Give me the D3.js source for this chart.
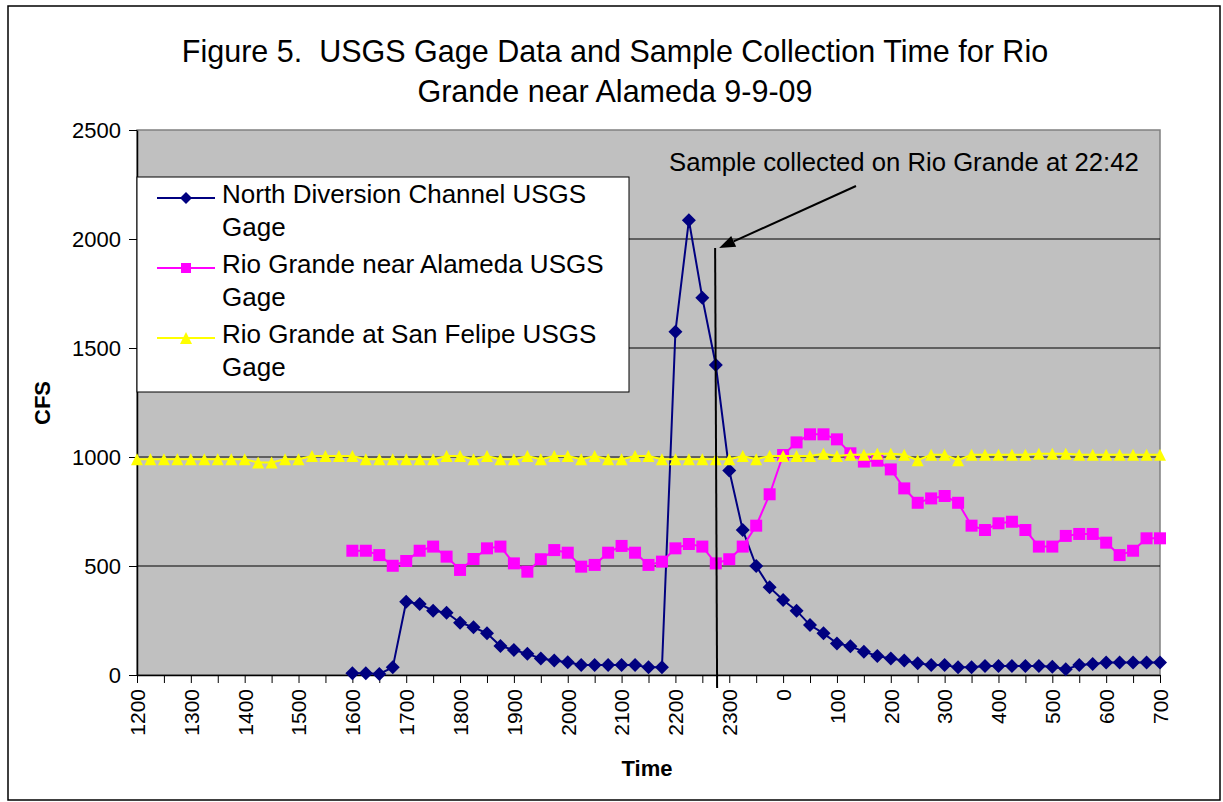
<!DOCTYPE html>
<html>
<head>
<meta charset="utf-8">
<script src="https://cdn.jsdelivr.net/npm/d3@7"></script>
<style>
  body { margin: 0; background: #fff; }
  svg { display: block; font-family: "Liberation Sans", Arial, sans-serif; }
</style>
</head>
<body>
<div id="chart"></div>
<script>
// Categories: readings every 15 minutes, 12:00 on 9-9-09 to 07:00 next morning
const times = ["1200","1215","1230","1245","1300","1315","1330","1345","1400","1415","1430","1445",
  "1500","1515","1530","1545","1600","1615","1630","1645","1700","1715","1730","1745",
  "1800","1815","1830","1845","1900","1915","1930","1945","2000","2015","2030","2045",
  "2100","2115","2130","2145","2200","2215","2230","2245","2300","2315","2330","2345",
  "0","15","30","45","100","115","130","145","200","215","230","245",
  "300","315","330","345","400","415","430","445","500","515","530","545",
  "600","615","630","645","700"];

const tickLabels = ["1200","1300","1400","1500","1600","1700","1800","1900","2000","2100",
  "2200","2300","0","100","200","300","400","500","600","700"];

const yTicks = [0, 500, 1000, 1500, 2000, 2500];

const northDiversion = [null,null,null,null,null,null,null,null,null,null,null,null,null,null,null,null,
  8,8,5,35,336,326,295,286,240,219,191,133,115,97,76,66,58,46,46,46,46,46,35,35,
  1575,2086,1730,1422,938,665,500,402,344,295,229,191,145,132,107,87,76,66,54,46,46,35,35,
  41,41,41,41,41,38,26,46,50,57,57,57,57,57];

const alameda = [null,null,null,null,null,null,null,null,null,null,null,null,null,null,null,null,
  570,570,550,501,523,570,589,543,482,532,581,589,512,474,531,573,561,497,505,561,592,561,505,520,
  581,601,589,512,531,589,685,829,1009,1067,1104,1104,1081,1017,979,983,943,856,790,810,821,790,
  685,665,696,703,665,589,589,638,647,647,607,550,570,627,627];

const sanFelipe = [990,990,990,990,990,990,990,990,990,975,975,990,990,1005,1005,1005,1005,
  990,990,990,990,990,990,1005,1005,990,1005,990,990,1005,990,1005,1005,990,1005,990,990,1005,1005,
  990,990,990,990,990,990,1005,990,1005,1005,1005,1005,1015,1005,1010,1010,1015,1015,1010,985,
  1010,1010,985,1010,1010,1010,1010,1010,1015,1015,1015,1010,1010,1010,1010,1010,1010,1010];

const seriesNames = ["North Diversion Channel USGS", "Rio Grande near Alameda USGS", "Rio Grande at San Felipe USGS"];
const seriesColors = ["#000080", "#FF00FF", "#FFFF00"];
const sampleTime = { before: "2230", after: "2245", minutes: 12 }; // 22:42

const W = 1223, H = 802;
const plot = { left: 137, right: 1160, top: 130, bottom: 675 };

const svg = d3.select('#chart').append('svg').attr('width', W).attr('height', H);

// outer chart border
svg.append('rect').attr('x', 8).attr('y', 6).attr('width', 1212).attr('height', 794)
  .attr('fill', '#fff').attr('stroke', '#000').attr('stroke-width', 1.5);

// title
svg.append('text').attr('x', 615).attr('y', 62).attr('text-anchor', 'middle')
  .attr('font-size', 30.5).text('Figure 5.\u00a0 USGS Gage Data and Sample Collection Time for Rio');
svg.append('text').attr('x', 615).attr('y', 102).attr('text-anchor', 'middle')
  .attr('font-size', 30.5).text('Grande near Alameda 9-9-09');

const x = d3.scalePoint().domain(times).range([plot.left, plot.right]);
const y = d3.scaleLinear().domain([0, 2500]).range([plot.bottom, plot.top]);

// plot area
svg.append('rect').attr('x', plot.left).attr('y', plot.top)
  .attr('width', plot.right - plot.left).attr('height', plot.bottom - plot.top)
  .attr('fill', '#C0C0C0').attr('stroke', '#808080').attr('stroke-width', 1.5);

// gridlines
svg.append('g').selectAll('line').data(yTicks.filter(d => d > 0 && d < 2500)).join('line')
  .attr('x1', plot.left).attr('x2', plot.right)
  .attr('y1', d => y(d)).attr('y2', d => y(d))
  .attr('stroke', '#000').attr('stroke-width', 1);

// y axis
const yAxis = svg.append('g').attr('transform', `translate(${plot.left},0)`)
  .call(d3.axisLeft(y).tickValues(yTicks).tickFormat(d3.format('d'))
    .tickSize(8).tickSizeOuter(0).tickPadding(8));
yAxis.select('.domain').attr('stroke', '#000').attr('stroke-width', 1.5);
yAxis.selectAll('text').attr('font-size', 22).attr('fill', '#000')
  .attr('font-family', '"Liberation Sans", Arial, sans-serif');

// x axis: tick marks every 30 min, labels every hour
const xAxis = svg.append('g').attr('transform', `translate(0,${plot.bottom})`)
  .call(d3.axisBottom(x)
    .tickValues(times.filter((d, i) => i % 2 === 0))
    .tickFormat(d => tickLabels.includes(d) ? d : '')
    .tickSize(8).tickSizeOuter(0));
xAxis.select('.domain').attr('stroke', '#000').attr('stroke-width', 1.5);
xAxis.selectAll('text')
  .attr('font-size', 21).attr('fill', '#000')
  .attr('font-family', '"Liberation Sans", Arial, sans-serif')
  .attr('text-anchor', 'end').attr('dy', '0.35em')
  .attr('transform', 'translate(0,4) rotate(-90)')
  .attr('x', -10).attr('y', 0);

// axis titles
svg.append('text').attr('transform', 'translate(50,403) rotate(-90)')
  .attr('text-anchor', 'middle').attr('font-size', 22).attr('font-weight', 'bold').text('CFS');
svg.append('text').attr('x', 647).attr('y', 776)
  .attr('text-anchor', 'middle').attr('font-size', 22).attr('font-weight', 'bold').text('Time');

// marker shapes
function marker(kind, s) {
  if (kind === 0) return `M0,${-s}L${s},0L0,${s}L${-s},0Z`;
  if (kind === 1) return `M${-s},${-s}H${s}V${s}H${-s}Z`;
  return `M0,${-s}L${s},${s}L${-s},${s}Z`;
}

const allSeries = [northDiversion, alameda, sanFelipe];
const line = d3.line().defined(d => d != null).x((d, i) => x(times[i])).y(d => y(d));

allSeries.forEach((vals, k) => {
  const g = svg.append('g');
  g.append('path').datum(vals).attr('d', line)
    .attr('fill', 'none').attr('stroke', seriesColors[k]).attr('stroke-width', 2);
  g.selectAll('path.m').data(vals.map((v, i) => ({ v, t: times[i] })).filter(d => d.v != null))
    .join('path').attr('class', 'm')
    .attr('transform', d => `translate(${x(d.t)},${y(d.v)})`)
    .attr('d', marker(k, k === 0 ? 7 : 6))
    .attr('fill', seriesColors[k]);
});

// legend
const lg = svg.append('g');
lg.append('rect').attr('x', 137).attr('y', 177).attr('width', 492).attr('height', 215)
  .attr('fill', '#fff').attr('stroke', '#000').attr('stroke-width', 1);
seriesNames.forEach((name, k) => {
  const cy = 198 + k * 70;
  lg.append('line').attr('x1', 157).attr('x2', 215).attr('y1', cy).attr('y2', cy)
    .attr('stroke', seriesColors[k]).attr('stroke-width', 2);
  lg.append('path').attr('transform', `translate(186,${cy})`)
    .attr('d', marker(k, k === 1 ? 5 : 6)).attr('fill', seriesColors[k]);
  lg.append('text').attr('x', 222).attr('y', cy + 5).attr('font-size', 26).text(name);
  lg.append('text').attr('x', 222).attr('y', cy + 38).attr('font-size', 26).text('Gage');
});

// sample collection marker at 22:42
const step = x.step();
const sx = x(sampleTime.before) + step * sampleTime.minutes / 15;
svg.append('line').attr('x1', sx + 2).attr('x2', sx + 4).attr('y1', 248).attr('y2', 688)
  .attr('stroke', '#000').attr('stroke-width', 2);

const ax0 = 856, ay0 = 186, ax1 = sx + 6, ay1 = 248;
const ang = Math.atan2(ay1 - ay0, ax1 - ax0);
const hl = 16, hw = 6;
const bx = ax1 - hl * Math.cos(ang), by = ay1 - hl * Math.sin(ang);
svg.append('line').attr('x1', ax0).attr('y1', ay0).attr('x2', bx).attr('y2', by)
  .attr('stroke', '#000').attr('stroke-width', 2);
svg.append('path')
  .attr('d', `M${ax1},${ay1}L${bx + hw * Math.sin(ang)},${by - hw * Math.cos(ang)}L${bx - hw * Math.sin(ang)},${by + hw * Math.cos(ang)}Z`)
  .attr('fill', '#000');

svg.append('text').attr('x', 669).attr('y', 171).attr('font-size', 25.7)
  .text('Sample collected on Rio Grande at 22:42');
</script>
</body>
</html>
